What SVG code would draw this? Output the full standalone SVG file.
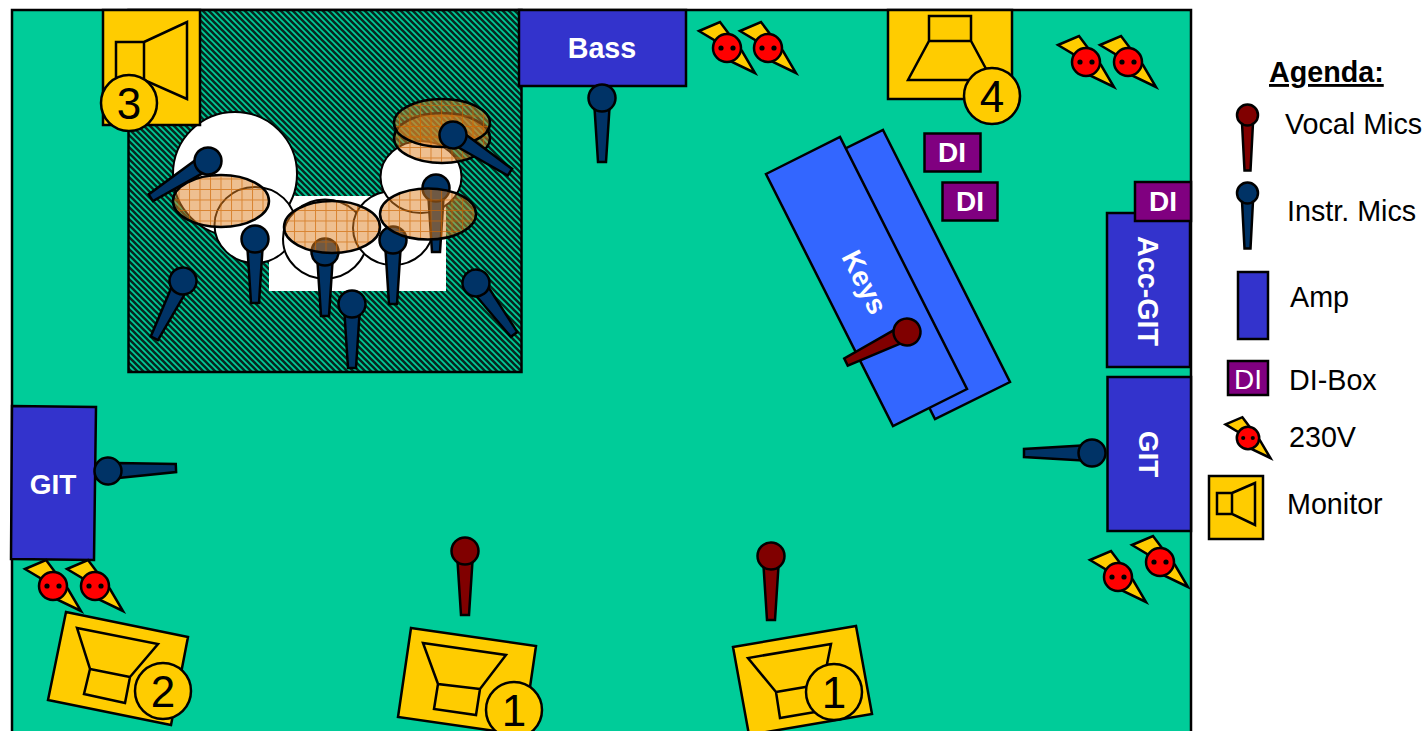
<svg xmlns="http://www.w3.org/2000/svg" width="1425" height="731" viewBox="0 0 1425 731">
<style>
text{font-family:"Liberation Sans",Arial,sans-serif;font-size:28px;fill:#000}
.b{font-size:28.7px}
.w{fill:#fff;font-weight:bold;text-anchor:middle}
.n{font-size:44px;text-anchor:middle}
.amp{fill:#3333CC;stroke:#000;stroke-width:2.5}
.key{fill:#3366FF;stroke:#000;stroke-width:2.5}
.di{fill:#800080;stroke:#000;stroke-width:2.5}
.mon{fill:#FFCC00;stroke:#000;stroke-width:2.5;stroke-linejoin:miter}
.drum{fill:#fff;stroke:#000;stroke-width:2}
.cym{fill:url(#grid);stroke:#000;stroke-width:2.5}
.blue{fill:#003366}
.red{fill:#800000}
.hs{stroke:#000;stroke-width:2.5;vector-effect:non-scaling-stroke}
</style>
<defs>
<pattern id="hatch" width="6" height="6" patternUnits="userSpaceOnUse">
<rect width="6" height="6" fill="#00CC99"/>
<path d="M-3 3L3 9M0 0L6 6M3 -3L9 3" stroke="#06281f" stroke-width="2.6"/>
</pattern>
<pattern id="grid" width="10.5" height="10.5" patternUnits="userSpaceOnUse">
<rect width="10.5" height="10.5" fill="#DD8022" fill-opacity=".5"/>
<path d="M0 .5H10.5M.5 0V10.5" stroke="#CC6600" stroke-width="1" stroke-opacity=".65"/>
</pattern>
<g id="mic">
<path class="hs" d="M-7.5 10L-4 64H4L7.5 10Z"/>
<circle class="hs" r="13.5"/>
</g>
<g id="mic-long">
<path class="hs" d="M-7.5 10L-4 68H4L7.500 10Z"/>
<circle class="hs" r="13.5"/>
</g>
<g id="mic-small">
<path class="hs" d="M-5.500 8L-3 55.500H3L5.500 8Z"/>
<circle class="hs" r="10.500"/>
</g>
<g id="plug">
<path class="hs" fill="#FFCC00" d="M-28-17L-7-26L8-6L15 3L28 25L3 13L-13-8Z"/>
<circle class="hs" r="14" fill="#FF0000"/>
<circle cx="-6" r="2.6" fill="#000"/>
<circle cx="6" r="2.6" fill="#000"/>
</g>
</defs>

<g id="stage"><rect x="12" y="10" width="1179" height="740" fill="#00CC99" stroke="#000" stroke-width="2.5"/></g>

<g id="drum-riser"><rect x="128.500" y="10" width="393" height="362" fill="url(#hatch)" stroke="#000" stroke-width="2.500"/></g>

<g id="drums">
<rect x="269" y="196" width="177" height="95" fill="#fff"/>
<circle class="drum" cx="235" cy="174" r="62" stroke-width="1.500"/>
<ellipse class="drum" cx="255" cy="225" rx="40.500" ry="38"/>
<ellipse class="drum" cx="325" cy="239" rx="42" ry="39.500"/>
<ellipse class="drum" cx="393" cy="228" rx="40" ry="37"/>
<ellipse class="drum" cx="421" cy="177" rx="40.500" ry="36"/>
</g>

<g id="drum-mics-under">
<use href="#mic-long" class="blue" transform="translate(208 161) rotate(57.3)"/>
<use href="#mic" class="blue" transform="translate(255 239)"/>
<use href="#mic" class="blue" transform="translate(325 252)"/>
<use href="#mic" class="blue" transform="translate(393 240)"/>
<use href="#mic" class="blue" transform="translate(436 188)"/>
</g>

<g id="cymbals">
<ellipse class="cym" cx="221" cy="201" rx="48" ry="26"/>
<ellipse class="cym" cx="332" cy="227" rx="48" ry="26"/>
<ellipse class="cym" cx="428" cy="214" rx="48" ry="25.500"/>
<ellipse class="cym" cx="442" cy="138" rx="48" ry="25"/>
<ellipse class="cym" cx="442" cy="123" rx="48" ry="24"/>
</g>

<g id="drum-mics-over">
<use href="#mic-long" class="blue" transform="translate(453 135) rotate(-56.8)"/>
<use href="#mic" class="blue" transform="translate(352 304)"/>
<use href="#mic" class="blue" transform="translate(183 281) rotate(26.6)"/>
<use href="#mic" class="blue" transform="translate(476 283) rotate(-36.5)"/>
</g>

<g id="monitor-3">
<rect class="mon" x="103" y="10" width="97" height="115"/>
<path class="mon" d="M116 42H144V80H116ZM144 42L187 22V99L144 80Z"/>
<circle class="mon" cx="129" cy="103" r="28"/>
<text class="n" x="129" y="119">3</text>
</g>

<g id="amp-bass">
<rect class="amp" x="519" y="10" width="167" height="76"/>
<text class="w b" x="602" y="58">Bass</text>
</g>
<use id="mic-bass" href="#mic" class="blue" transform="translate(602 98)"/>

<g id="power-1"><use href="#plug" x="727" y="48"/><use href="#plug" x="768" y="48"/></g>

<g id="monitor-4">
<rect class="mon" x="888" y="10" width="124" height="89"/>
<path class="mon" d="M929 16H971V41H929ZM929 41H971L992 80H908Z"/>
<circle class="mon" cx="992" cy="96" r="28"/>
<text class="n" x="992" y="112">4</text>
</g>

<g id="power-2"><use href="#plug" x="1086" y="62"/><use href="#plug" x="1128" y="62"/></g>

<g id="di-1"><rect class="di" x="924.500" y="133.500" width="56" height="38"/><text class="w" x="952" y="162">DI</text></g>
<g id="di-2"><rect class="di" x="942.500" y="182.500" width="55" height="38"/><text class="w" x="970" y="211">DI</text></g>

<g id="keys">
<path class="key" d="M883 130L1010 382L935 419L808 167Z"/>
<path class="key" d="M766 174L840 137L967 389L893 426Z"/>
<text class="w" transform="translate(865 282) rotate(63.300)" y="10">Keys</text>
</g>
<use id="mic-keys" href="#mic-long" class="red" transform="translate(907 332) rotate(63.800)"/>

<g id="amp-acc-git">
<rect class="amp" x="1107" y="213" width="83" height="154"/>
<text class="w b" transform="translate(1148 291) rotate(90)" y="10">Acc-GIT</text>
</g>
<g id="di-3"><rect class="di" x="1135" y="182" width="56" height="39"/><text class="w" x="1163" y="211">DI</text></g>
<g id="amp-git-right">
<rect class="amp" x="1107.500" y="377" width="83.500" height="154"/>
<text class="w" transform="translate(1149 454) rotate(90)" y="10">GIT</text>
</g>
<use id="mic-git-right" href="#mic-long" class="blue" transform="translate(1092 453) rotate(90)"/>
<g id="power-3"><use href="#plug" x="1118" y="577"/><use href="#plug" x="1160" y="562"/></g>

<g id="amp-git-left">
<path class="amp" d="M12 406L96 407L94 560L11 559Z"/>
<text class="w" x="53" y="494">GIT</text>
</g>
<use id="mic-git-left" href="#mic-long" class="blue" transform="translate(108 471) rotate(-92.500)"/>
<g id="power-4"><use href="#plug" x="53" y="586"/><use href="#plug" x="95" y="586"/></g>

<g id="monitor-2">
<path class="mon" d="M66 612L188 637L171 725L48 700Z"/>
<path class="mon" d="M77 628L158 644L130 677L90 669ZM90 669L130 677L125 703L84 694Z"/>
<circle class="mon" cx="163" cy="691" r="28"/>
<text class="n" x="163" y="707">2</text>
</g>

<use id="mic-vocal-1" href="#mic" class="red" transform="translate(465 551)"/>
<use id="mic-vocal-2" href="#mic" class="red" transform="translate(771 556)"/>

<g id="monitor-1a">
<path class="mon" d="M411 628L536 646L523 735L398 717Z"/>
<path class="mon" d="M423 643L506 655L480 689L438 684ZM438 684L480 689L476 715L434 709Z"/>
<circle class="mon" cx="514" cy="710" r="28"/>
<text class="n" x="514" y="726">1</text>
</g>
<g id="monitor-1b">
<path class="mon" d="M733 647L856 626L872 714L749 735Z"/>
<path class="mon" d="M831 644L748 658L776 692L823 684ZM776 692L823 684L827 710L780 718Z"/>
<circle class="mon" cx="834" cy="692" r="28"/>
<text class="n" x="834" y="708">1</text>
</g>

<g id="legend">
<text class="b" x="1269" y="82" font-weight="bold" text-decoration="underline">Agenda:</text>
<use href="#mic-small" class="red" transform="translate(1247.500 115)"/>
<text class="b" x="1285" y="134">Vocal Mics</text>
<use href="#mic-small" class="blue" transform="translate(1247.500 193)"/>
<text class="b" x="1287" y="221">Instr. Mics</text>
<rect class="amp" x="1238" y="272" width="30" height="67"/>
<text class="b" x="1290" y="307">Amp</text>
<rect class="di" x="1228" y="361" width="40" height="34"/>
<text x="1248" y="389" style="fill:#fff;text-anchor:middle">DI</text>
<text class="b" x="1289" y="390">DI-Box</text>
<use href="#plug" transform="translate(1248 438) scale(.8)"/>
<text class="b" x="1289" y="447">230V</text>
<rect class="mon" x="1209" y="476" width="54" height="63"/>
<path class="mon" d="M1217 493H1232V514H1217ZM1232 493L1255 483V525L1232 514Z"/>
<text class="b" x="1287" y="514">Monitor</text>
</g>
</svg>
